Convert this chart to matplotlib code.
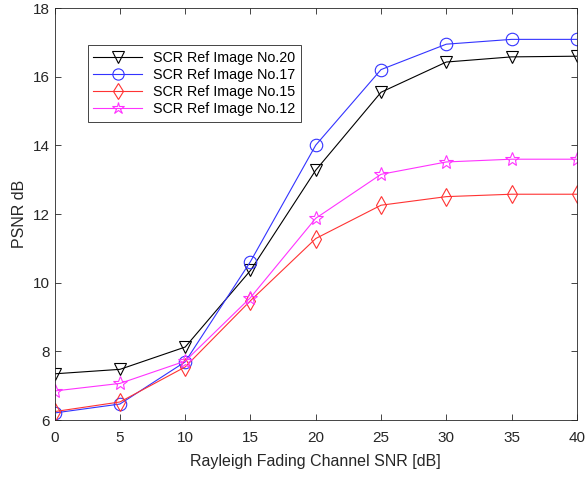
import matplotlib.pyplot as plt
import numpy as np

plt.rcParams['font.family'] = ['Liberation Sans', 'DejaVu Sans']

snr = [0, 5, 10, 15, 20, 25, 30, 35, 40]
img20 = [7.35, 7.48, 8.13, 10.36, 13.28, 15.55, 16.43, 16.58, 16.60]
img17 = [6.21, 6.47, 7.70, 10.62, 14.01, 16.21, 16.95, 17.09, 17.09]
img15 = [6.25, 6.53, 7.55, 9.48, 11.29, 12.26, 12.51, 12.58, 12.58]
img12 = [6.85, 7.07, 7.72, 9.57, 11.88, 13.16, 13.52, 13.60, 13.60]
labels = ['SCR Ref Image No.20', 'SCR Ref Image No.17',
          'SCR Ref Image No.15', 'SCR Ref Image No.12']

fig = plt.figure(figsize=(5.88, 4.78), dpi=100)
ax = fig.add_axes([0.093, 0.121, 0.888, 0.862])

styles = [('k', 'v'), ('#3333ff', 'o'), ('#ff3333', 'd'), ('#ff33ff', '*')]
for y, (c, m), lab in zip([img20, img17, img15, img12], styles, labels):
    ax.plot(snr, y, color=c, marker=m, markersize=9 if m != '*' else 10,
            markerfacecolor='none', markeredgewidth=0.8, linewidth=0.8, label=lab)

ax.set_xlim(0, 40)
ax.set_ylim(6, 18)
ax.set_xticks(np.arange(0, 41, 5))
ax.set_yticks(np.arange(6, 19, 2))
ax.tick_params(direction='in', top=True, right=True, labelsize=11,
               colors='#262626', length=4, width=0.6)
ax.tick_params(axis='x', pad=8)
for s in ax.spines.values():
    s.set_color('#262626')
    s.set_linewidth(0.6)
ax.set_xlabel('Rayleigh Fading Channel SNR [dB]', fontsize=11.5, color='#262626',
              labelpad=6)
ax.set_ylabel('PSNR dB', fontsize=11.5, color='#262626')

leg = ax.legend(loc='upper left', bbox_to_anchor=(0.063, 0.91), fontsize=10.3,
                handlelength=3.4, borderaxespad=0, fancybox=False,
                framealpha=1, edgecolor='#262626', borderpad=0.4,
                labelspacing=0.22, markerscale=0.9)
leg.get_frame().set_linewidth(0.6)

fig.savefig('out.png', dpi=100)
